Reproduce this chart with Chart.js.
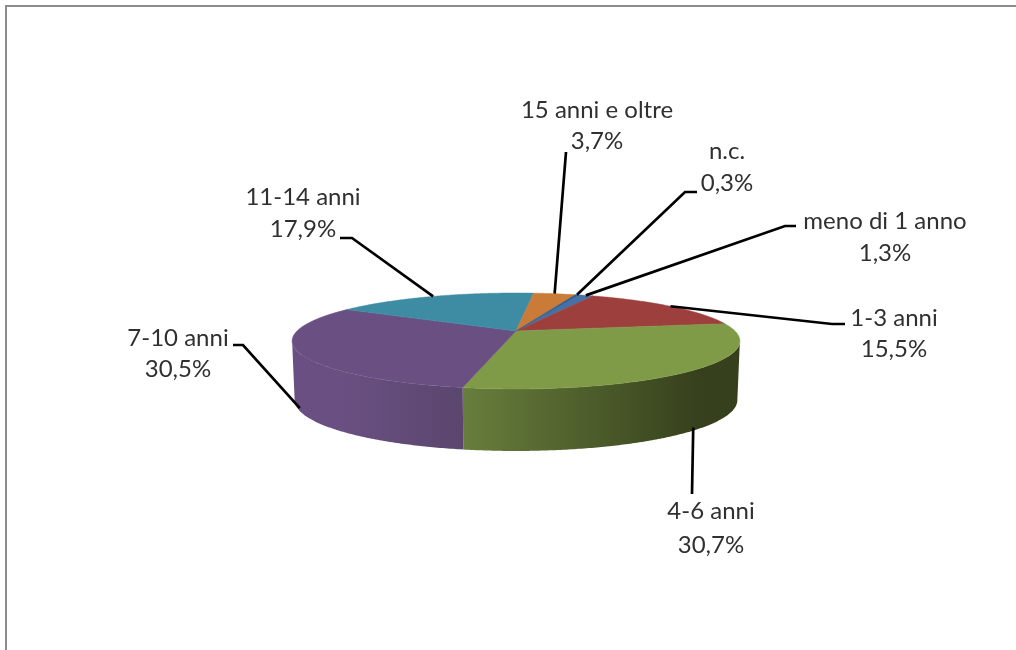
<!DOCTYPE html>
<html>
<head>
<meta charset="utf-8">
<title>Anzianità</title>
<script src="https://cdn.jsdelivr.net/npm/chart.js@4"></script>
<style>
    html, body { margin: 0; padding: 0; background: #fff; overflow: hidden; }
    #wrap { position: relative; width: 1016px; height: 650px; }
    #frame { position: absolute; left: 5px; top: 5px; right: -10px; bottom: -10px; border: 2px solid #8c8c8c; }
    canvas { position: absolute; left: 0; top: 0; filter: blur(0.4px); }
</style>
</head>
<body>
<div id="wrap">
    <div id="frame"></div>
    <canvas id="chart" width="1016" height="650"></canvas>
</div>
<script>
const categories = ['meno di 1 anno', '1-3 anni', '4-6 anni', '7-10 anni', '11-14 anni', '15 anni e oltre', 'n.c.'];
const values = [1.3, 15.5, 30.7, 30.5, 17.9, 3.7, 0.3];
const topColors = ['#4471A7', '#9D403D', '#809B48', '#6A5082', '#3D8CA3', '#CB7B38', '#2F5A8C'];
const firstSliceAngle = 20;

// perspective of the disc, worked out from the picture
const centerX = 516;
const topFace = { y0: 331, a: 219, b: 45.9 };
const bottomFace = { y0: 389.6, a: 216.5, b: 48.6 };
const tilt = 0.208;

// side wall shading: [color at x0, color at x1, x0, x1]
const wallShades = {
    2: ['#687E3C', '#36401C', 463, 700],
    3: ['#6A5082', '#5B466E', 340, 463]
};

// elbow of the leader and centre of the two text lines, same order as categories
const leaderElbows = [[785, 226, 796], [832, 324, 845], [692, 494, 692], [243, 345, 233], [352, 238, 340], [566, 152, 566], [685, 192, 697]];
const labelCenters = [[885, 221, 253], [894, 318, 349], [711, 511, 545], [178, 338, 369], [303, 197, 229], [597, 110, 141], [727, 151, 183]];

function project(face, angle) {
    const u = Math.cos(angle);
    const v = Math.sin(angle);
    const w = 1 - tilt * v;
    return [centerX + face.a * u / w, face.y0 + face.b * v / w];
}

function arcPoints(face, from, to) {
    const pts = [];
    const steps = Math.max(2, Math.ceil((to - from) / 0.01));
    for (let i = 0; i <= steps; i++) {
        pts.push(project(face, from + (to - from) * i / steps));
    }
    return pts;
}

function tracePath(ctx, pts) {
    ctx.beginPath();
    pts.forEach((p, i) => i ? ctx.lineTo(p[0], p[1]) : ctx.moveTo(p[0], p[1]));
    ctx.closePath();
}

const disc3d = {
    id: 'disc3d',
    beforeDatasetsDraw(chart) {
        const ctx = chart.ctx;
        const arcs = chart.getDatasetMeta(0).data;
        // only the part of the wall facing the viewer
        const wallFrom = Math.asin(tilt);
        const wallTo = Math.PI - wallFrom;

        arcs.forEach((arc, i) => {
            const shade = wallShades[i];
            if (!shade) return;
            const from = Math.max(arc.startAngle, wallFrom);
            const to = Math.min(arc.endAngle, wallTo);
            if (to <= from) return;
            const pts = arcPoints(topFace, from, to).concat(arcPoints(bottomFace, from, to).reverse());
            const grad = ctx.createLinearGradient(shade[3], 0, shade[2], 0);
            grad.addColorStop(0, shade[1]);
            grad.addColorStop(1, shade[0]);
            tracePath(ctx, pts);
            ctx.fillStyle = grad;
            ctx.fill();
        });

        arcs.forEach((arc, i) => {
            const pts = [[centerX, topFace.y0]].concat(arcPoints(topFace, arc.startAngle, arc.endAngle));
            tracePath(ctx, pts);
            ctx.fillStyle = topColors[i];
            ctx.strokeStyle = topColors[i];
            ctx.lineWidth = 0.5;
            ctx.fill();
            ctx.stroke();
        });

        // leaders and labels
        arcs.forEach((arc, i) => {
            const mid = (arc.startAngle + arc.endAngle) / 2;
            const onFront = Math.sin(mid) > tilt;
            const start = project(onFront ? bottomFace : topFace, mid);
            const elbow = leaderElbows[i];
            ctx.beginPath();
            ctx.moveTo(start[0], start[1] - (onFront ? 3 : 0));
            ctx.lineTo(elbow[0], elbow[1]);
            ctx.lineTo(elbow[2], elbow[1]);
            ctx.strokeStyle = '#000';
            ctx.lineWidth = 2.7;
            ctx.stroke();

            const pos = labelCenters[i];
            ctx.fillStyle = '#303030';
            ctx.font = '24px Lato';
            ctx.textAlign = 'center';
            ctx.textBaseline = 'middle';
            ctx.fillText(categories[i], pos[0], pos[1]);
            ctx.fillText(values[i].toFixed(1).replace('.', ',') + '%', pos[0], pos[2]);
        });

        return false;
    }
};

new Chart(document.getElementById('chart'), {
    type: 'pie',
    data: {
        labels: categories,
        datasets: [{ data: values, backgroundColor: topColors, borderWidth: 0 }]
    },
    options: {
        responsive: false,
        animation: false,
        rotation: firstSliceAngle,
        plugins: {
            legend: { display: false },
            tooltip: { enabled: false }
        }
    },
    plugins: [disc3d]
});
</script>
</body>
</html>
